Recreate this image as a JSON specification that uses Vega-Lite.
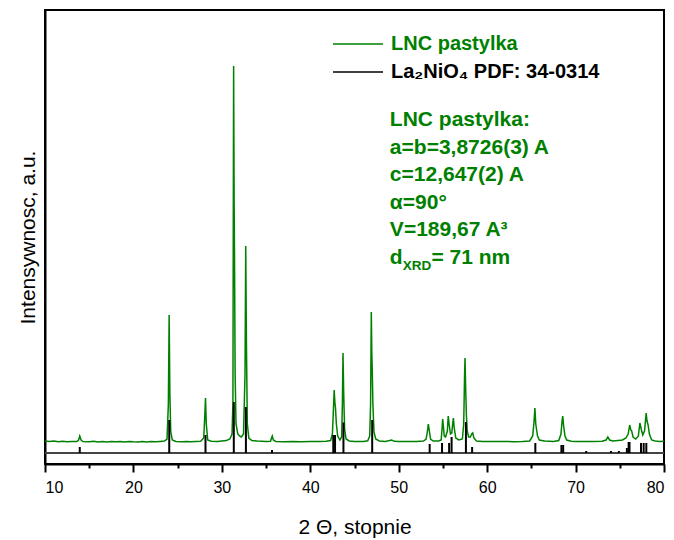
{
  "$schema": "https://vega.github.io/schema/vega-lite/v6.json",
  "width": 619,
  "height": 454,
  "autosize": {"type": "none"},
  "padding": {"left": 45, "top": 10, "right": 10, "bottom": 76},
  "config": {
    "font": "Liberation Sans",
    "view": {"stroke": "black", "strokeWidth": 2},
    "axis": {"grid": false}
  },
  "datasets": {
    "pattern": [
      {"t":10.0,"i":23},{"t":10.5,"i":22.4},{"t":11.0,"i":23.0},{"t":11.5,"i":22.3},{"t":12.0,"i":22.8},{"t":12.5,"i":22.2},{"t":13.0,"i":22.6},{"t":13.6,"i":22.4},{"t":13.8,"i":24},{"t":13.93,"i":28},{"t":14.08,"i":24},{"t":14.3,"i":22.5},{"t":15,"i":22.2},{"t":15.5,"i":22.7},{"t":16,"i":22.1},{"t":16.5,"i":22.5},{"t":17,"i":22.0},{"t":17.5,"i":22.6},{"t":18,"i":22.2},{"t":18.5,"i":22.4},{"t":19,"i":21.9},{"t":19.5,"i":22.5},{"t":20,"i":22.2},{"t":20.5,"i":22.0},{"t":21,"i":22.4},{"t":21.5,"i":22.1},{"t":22,"i":22.5},{"t":22.5,"i":22.2},{"t":23,"i":22.6},{"t":23.5,"i":23.0},{"t":23.8,"i":25},{"t":23.95,"i":60},{"t":24.04,"i":149},{"t":24.12,"i":70},{"t":24.22,"i":32},{"t":24.4,"i":24},{"t":24.8,"i":22.6},{"t":25.5,"i":22.3},{"t":26,"i":22.6},{"t":26.5,"i":22.2},{"t":27,"i":22.5},{"t":27.6,"i":22.8},{"t":27.95,"i":26},{"t":28.08,"i":50},{"t":28.15,"i":66},{"t":28.24,"i":40},{"t":28.4,"i":24},{"t":28.8,"i":22.8},{"t":29.5,"i":22.6},{"t":30,"i":23},{"t":30.5,"i":23.4},{"t":30.9,"i":25},{"t":31.15,"i":30},{"t":31.25,"i":60},{"t":31.33,"i":398},{"t":31.39,"i":260},{"t":31.43,"i":211},{"t":31.5,"i":90},{"t":31.6,"i":40},{"t":31.8,"i":30},{"t":32.0,"i":28},{"t":32.2,"i":27},{"t":32.45,"i":30},{"t":32.62,"i":90},{"t":32.7,"i":218},{"t":32.78,"i":120},{"t":32.88,"i":40},{"t":33.05,"i":26},{"t":33.4,"i":23.5},{"t":34,"i":23},{"t":34.5,"i":22.8},{"t":35,"i":22.6},{"t":35.5,"i":22.8},{"t":35.62,"i":26},{"t":35.7,"i":28},{"t":35.82,"i":24},{"t":36.1,"i":22.6},{"t":37,"i":22.3},{"t":38,"i":22.5},{"t":39,"i":22.2},{"t":40,"i":22.5},{"t":41,"i":22.4},{"t":41.8,"i":22.8},{"t":42.3,"i":23.5},{"t":42.5,"i":30},{"t":42.62,"i":55},{"t":42.7,"i":74},{"t":42.78,"i":62},{"t":42.85,"i":56},{"t":42.95,"i":40},{"t":43.1,"i":28},{"t":43.35,"i":24},{"t":43.55,"i":27},{"t":43.63,"i":60},{"t":43.7,"i":111},{"t":43.78,"i":70},{"t":43.88,"i":35},{"t":44.05,"i":25},{"t":44.4,"i":23},{"t":45,"i":22.6},{"t":45.5,"i":22.4},{"t":46,"i":22.6},{"t":46.5,"i":23.2},{"t":46.72,"i":28},{"t":46.82,"i":60},{"t":46.9,"i":152},{"t":46.96,"i":110},{"t":47.0,"i":97},{"t":47.08,"i":60},{"t":47.2,"i":32},{"t":47.4,"i":25},{"t":47.8,"i":23},{"t":48.5,"i":22.6},{"t":49.2,"i":24},{"t":49.5,"i":22.7},{"t":50,"i":22.5},{"t":51,"i":22.4},{"t":52,"i":22.6},{"t":52.8,"i":23},{"t":53.1,"i":25},{"t":53.25,"i":33},{"t":53.35,"i":40},{"t":53.45,"i":34},{"t":53.6,"i":25},{"t":53.9,"i":23},{"t":54.5,"i":23},{"t":54.8,"i":24},{"t":54.9,"i":35},{"t":54.97,"i":45},{"t":55.05,"i":38},{"t":55.15,"i":28},{"t":55.3,"i":27},{"t":55.5,"i":33},{"t":55.6,"i":48},{"t":55.7,"i":40},{"t":55.85,"i":30},{"t":56.0,"i":31},{"t":56.1,"i":40},{"t":56.18,"i":46},{"t":56.28,"i":36},{"t":56.45,"i":26},{"t":56.8,"i":24},{"t":57.2,"i":25},{"t":57.35,"i":40},{"t":57.45,"i":90},{"t":57.5,"i":106},{"t":57.56,"i":80},{"t":57.65,"i":50},{"t":57.75,"i":33},{"t":57.9,"i":27},{"t":58.1,"i":27},{"t":58.25,"i":30},{"t":58.37,"i":31},{"t":58.5,"i":26},{"t":58.8,"i":23},{"t":59.5,"i":22.6},{"t":60,"i":22.5},{"t":61,"i":22.4},{"t":62,"i":22.6},{"t":63,"i":22.3},{"t":64,"i":22.5},{"t":64.8,"i":23},{"t":65.15,"i":28},{"t":65.3,"i":42},{"t":65.4,"i":56},{"t":65.5,"i":40},{"t":65.58,"i":35},{"t":65.7,"i":28},{"t":65.9,"i":24},{"t":66.5,"i":23},{"t":67.5,"i":22.6},{"t":68.1,"i":23.5},{"t":68.35,"i":30},{"t":68.48,"i":44},{"t":68.55,"i":48},{"t":68.65,"i":38},{"t":68.8,"i":28},{"t":69.0,"i":24},{"t":69.5,"i":22.8},{"t":70,"i":22.5},{"t":71,"i":22.6},{"t":72,"i":22.4},{"t":73,"i":22.8},{"t":73.45,"i":24},{"t":73.65,"i":27},{"t":73.85,"i":24},{"t":74.2,"i":23},{"t":74.8,"i":23.5},{"t":75.3,"i":24},{"t":75.7,"i":26},{"t":75.95,"i":30},{"t":76.12,"i":39},{"t":76.25,"i":34},{"t":76.35,"i":33},{"t":76.5,"i":27},{"t":76.8,"i":25},{"t":77.1,"i":28},{"t":77.27,"i":41},{"t":77.35,"i":38},{"t":77.45,"i":34},{"t":77.6,"i":29},{"t":77.8,"i":33},{"t":77.98,"i":51},{"t":78.08,"i":43},{"t":78.2,"i":39},{"t":78.35,"i":30},{"t":78.6,"i":24},{"t":79,"i":23},{"t":79.5,"i":22.6},{"t":80,"i":22.7}
    ],
    "sticks": [
      {"t":13.93,"i":17},{"t":24.05,"i":44},{"t":28.15,"i":29},{"t":31.35,"i":62},{"t":32.72,"i":57},{"t":35.67,"i":14},{"t":42.6,"i":29},{"t":42.8,"i":29},{"t":43.75,"i":41.5},{"t":47.0,"i":44},{"t":53.5,"i":20},{"t":54.9,"i":21},{"t":55.7,"i":21},{"t":55.98,"i":27},{"t":57.6,"i":42},{"t":58.3,"i":17},{"t":65.45,"i":21},{"t":68.4,"i":19},{"t":68.6,"i":19},{"t":71.2,"i":13},{"t":74.0,"i":13},{"t":74.9,"i":13},{"t":75.8,"i":16},{"t":76.0,"i":22},{"t":76.1,"i":22},{"t":77.4,"i":21},{"t":77.7,"i":21},{"t":78.0,"i":21}
    ],
    "notes": [
      {"t":49.0,"i":344,"txt":"LNC pastylka:"},
      {"t":49.0,"i":316,"txt":"a=b=3,8726(3) A"},
      {"t":49.0,"i":289,"txt":"c=12,647(2) A"},
      {"t":49.0,"i":261,"txt":"α=90°"},
      {"t":49.0,"i":234,"txt":"V=189,67 A³"},
      {"t":49.0,"i":206,"txt":"d"},
      {"t":53.7,"i":206,"txt":"= 71 nm"}
    ],
    "subs": [
      {"t":50.47,"i":198,"txt":"XRD"}
    ],
    "base": [{"from":10,"to":80,"level":11}]
  },
  "layer": [
    {
      "data": {"name": "pattern"},
      "transform": [{"calculate": "'LNC pastylka'", "as": "series"}],
      "mark": {"type": "line", "strokeWidth": 1.5, "interpolate": "linear"},
      "encoding": {
        "x": {"field": "t", "type": "quantitative",
          "scale": {"domain": [10, 80], "nice": false, "zero": false},
          "axis": {
            "values": [10,15,20,25,30,35,40,45,50,55,60,65,70,75,80],
            "labelExpr": "datum.value % 10 === 0 ? datum.label : ''",
            "tickSize": {"condition": {"test": "datum.value % 10 === 0", "value": 8}, "value": 4},
            "tickColor": "black", "tickWidth": 2,
            "domainColor": "black", "domainWidth": 2,
            "labelFontSize": 16, "labelColor": "black", "labelPadding": 7,
            "title": "2 Θ, stopnie", "titleFontSize": 21, "titleFontWeight": "normal",
            "titleColor": "black", "titlePadding": 21
          }},
        "y": {"field": "i", "type": "quantitative",
          "scale": {"domain": [0, 454], "nice": false},
          "axis": {
            "ticks": false, "labels": false,
            "domainColor": "black", "domainWidth": 2,
            "title": "Intensywnosc, a.u.", "titleFontSize": 21, "titleFontWeight": "normal",
            "titleColor": "black", "titlePadding": 7
          }},
        "color": {"field": "series", "type": "nominal",
          "scale": {"domain": ["LNC pastylka", "La₂NiO₄ PDF: 34-0314"], "range": ["#008000", "#000000"]},
          "legend": {
            "orient": "none", "legendX": 287, "legendY": 23, "title": null,
            "symbolType": "M-1,0H4", "symbolSize": 400, "symbolStrokeWidth": 1.5,
            "labelFont": "Liberation Sans", "labelFontSize": 20, "labelFontWeight": "bold",
            "labelOffset": 37, "rowPadding": 7, "labelLimit": 400, "padding": 0,
            "encode": {"labels": {"update": {"fill": {"signal": "datum.value === 'LNC pastylka' ? '#008000' : '#000000'"}}}}
          }}
      }
    },
    {
      "data": {"name": "base"},
      "mark": {"type": "rule", "color": "#444444", "strokeWidth": 2},
      "encoding": {
        "x": {"field": "from", "type": "quantitative"},
        "x2": {"field": "to"},
        "y": {"field": "level", "type": "quantitative"}
      }
    },
    {
      "data": {"name": "sticks"},
      "transform": [{"calculate": "'La₂NiO₄ PDF: 34-0314'", "as": "series"}],
      "mark": {"type": "rule", "strokeWidth": 2},
      "encoding": {
        "x": {"field": "t", "type": "quantitative"},
        "y": {"field": "i", "type": "quantitative"},
        "y2": {"datum": 11},
        "color": {"field": "series", "type": "nominal"}
      }
    },
    {
      "data": {"name": "notes"},
      "mark": {"type": "text", "align": "left", "baseline": "middle", "fontSize": 21, "fontWeight": "bold", "color": "#008000"},
      "encoding": {
        "x": {"field": "t", "type": "quantitative"},
        "y": {"field": "i", "type": "quantitative"},
        "text": {"field": "txt"}
      }
    },
    {
      "data": {"name": "subs"},
      "mark": {"type": "text", "align": "left", "baseline": "middle", "fontSize": 13.5, "fontWeight": "bold", "color": "#008000"},
      "encoding": {
        "x": {"field": "t", "type": "quantitative"},
        "y": {"field": "i", "type": "quantitative"},
        "text": {"field": "txt"}
      }
    }
  ]
}
